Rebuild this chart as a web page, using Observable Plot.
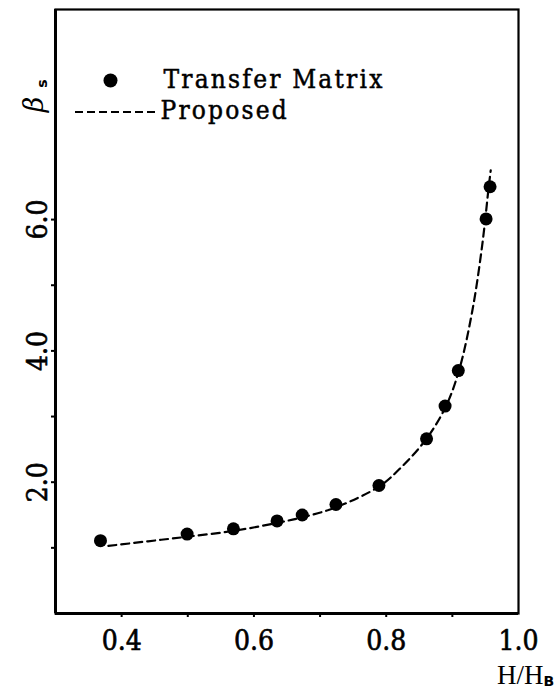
<!DOCTYPE html>
<html>
<head>
<meta charset="utf-8">
<script src="https://cdn.jsdelivr.net/npm/d3@7"></script>
<script src="https://cdn.jsdelivr.net/npm/@observablehq/plot@0.6"></script>
<style>
  html, body { margin: 0; padding: 0; background: #fff; }
  svg { display: block; }
  .leg text { letter-spacing: 2.2px; }
</style>
</head>
<body>
<div id="chart"></div>
<script>
// Transfer Matrix (dots)
const tmX = [0.368, 0.499, 0.569, 0.635, 0.673, 0.724, 0.789, 0.861, 0.889, 0.909, 0.951, 0.957];
const tmY = [1.11, 1.21, 1.29, 1.41, 1.50, 1.66, 1.95, 2.66, 3.16, 3.70, 6.01, 6.50];
// Proposed (dashed curve)
const propX = [0.38, 0.44, 0.50, 0.57, 0.635, 0.675, 0.725, 0.79, 0.82, 0.86, 0.89, 0.91, 0.93, 0.945, 0.955, 0.958];
const propY = [1.03, 1.10, 1.17, 1.26, 1.38, 1.47, 1.62, 1.94, 2.20, 2.65, 3.15, 3.70, 4.60, 5.60, 6.50, 6.75];
// Axes
const xTicks = [0.4, 0.5, 0.6, 0.7, 0.8, 0.9];
const xLabelTicks = [0.4, 0.6, 0.8, 1.0];
const yTicks = [1, 2, 3, 4, 5, 6];
const yLabelTicks = [2, 4, 6];
const xDomain = [0.3, 1.0];
const yDomain = [0, 9.2];
const legendLabels = ["Transfer Matrix", "Proposed"];

const tm = tmX.map((x, i) => ({x, y: tmY[i]}));
const prop = propX.map((x, i) => ({x, y: propY[i]}));

const FONT = "'DejaVu Serif Condensed', 'DejaVu Serif', serif";

const legendMark = (index, scales, values, dims) => {
  const g = d3.create("svg:g");
  const x0 = dims.marginLeft, y0 = dims.marginTop;
  g.append("line")
    .attr("x1", x0 + 20).attr("x2", x0 + 100)
    .attr("y1", y0 + 103).attr("y2", y0 + 103)
    .attr("stroke", "#000").attr("stroke-width", 2)
    .attr("stroke-dasharray", "8,4");
  return g.node();
};

const chart = Plot.plot({
  width: 558,
  height: 690,
  marginLeft: 55,
  marginRight: 40,
  marginTop: 9,
  marginBottom: 77,
  style: {fontFamily: FONT, background: "#fff", color: "#000"},
  x: {domain: xDomain},
  y: {domain: yDomain},
  marks: [
    Plot.axisX({ticks: xTicks, tickSize: 4, tickFormat: () => "", label: null, strokeWidth: 2}),
    Plot.axisY({ticks: yTicks, tickSize: 4, tickFormat: () => "", label: null, strokeWidth: 2}),
    Plot.text(xLabelTicks, {x: d => d, y: yDomain[0], dy: 28, text: d => d.toFixed(1), fontSize: 28, textAnchor: "middle", stroke: "#000", strokeWidth: 0.6, fill: "#000"}),
    Plot.text(yLabelTicks, {x: xDomain[0], y: d => d, dx: -17, text: d => d.toFixed(1), fontSize: 28, rotate: -90, textAnchor: "middle", stroke: "#000", strokeWidth: 0.6, fill: "#000"}),
    Plot.frame({stroke: "#000", strokeWidth: 2.2}),
    Plot.ruleX([xDomain[0]], {stroke: "#000", strokeWidth: 3}),
    Plot.ruleY([yDomain[0]], {stroke: "#000", strokeWidth: 3}),
    Plot.line(prop, {x: "x", y: "y", stroke: "#000", strokeWidth: 2.2, strokeDasharray: "8,5", curve: "catmull-rom"}),
    Plot.dot(tm, {x: "x", y: "y", r: 6.5, fill: "#000", stroke: "none"}),
    // legend
    Plot.dot([0], {frameAnchor: "top-left", dx: 55, dy: 71, r: 7, fill: "#000"}),
    Plot.text([legendLabels[0]], {className: "leg", frameAnchor: "top-left", lineAnchor: "middle", dx: 108, dy: 70, text: d => d, fontSize: 26, textAnchor: "start", stroke: "#000", strokeWidth: 0.5, fill: "#000"}),
    Plot.text([legendLabels[1]], {className: "leg", frameAnchor: "top-left", lineAnchor: "middle", dx: 105, dy: 101, text: d => d, fontSize: 26, textAnchor: "start", stroke: "#000", strokeWidth: 0.5, fill: "#000"}),
    legendMark,
    // axis titles
    Plot.text(["H/H"], {frameAnchor: "bottom-right", lineAnchor: "middle", dx: 25, dy: 62, text: d => d, fontSize: 27, textAnchor: "end", fontFamily: "'Liberation Serif', serif"}),
    Plot.text(["B"], {frameAnchor: "bottom-right", lineAnchor: "middle", dx: 25, dy: 68, text: d => d, fontSize: 14, fontWeight: "bold", textAnchor: "start", fontFamily: "'DejaVu Sans', sans-serif"}),
    Plot.text(["β"], {frameAnchor: "top-left", lineAnchor: "middle", dx: -21, dy: 95, text: d => d, fontSize: 27, fontStyle: "italic", rotate: -90, textAnchor: "middle", fontFamily: "'DejaVu Serif', serif"}),
    Plot.text(["s"], {frameAnchor: "top-left", lineAnchor: "middle", dx: -13, dy: 74, text: d => d, fontSize: 14, fontWeight: "bold", rotate: -90, textAnchor: "middle", fontFamily: "'DejaVu Sans', sans-serif"})
  ]
});
document.getElementById("chart").appendChild(chart);
</script>
</body>
</html>
